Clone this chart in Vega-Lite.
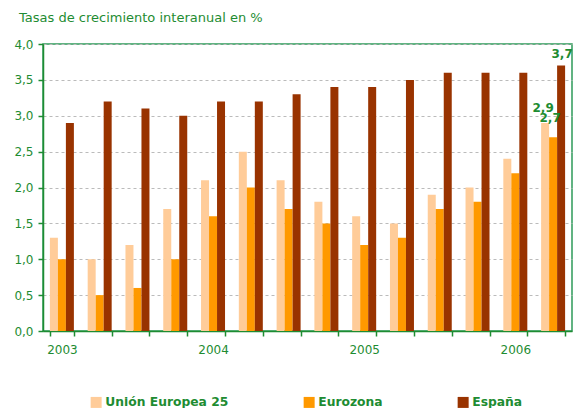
{
  "$schema": "https://vega.github.io/schema/vega-lite/v6.json",
  "width": 529,
  "height": 287,
  "autosize": {"type": "none"},
  "padding": {"left": 43, "top": 44, "right": 4, "bottom": 77},
  "config": {
    "font": "DejaVu Sans",
    "view": {"stroke": "#2e9a5a", "strokeWidth": 1.5},
    "background": "white",
    "locale": {
      "number": {"decimal": ",", "thousands": ".", "grouping": [3], "currency": ["", " €"]}
    }
  },
  "title": {
    "text": "Tasas de crecimiento interanual en %",
    "anchor": "start",
    "frame": "group",
    "dx": -24,
    "offset": 13,
    "fontSize": 13,
    "fontWeight": "normal",
    "color": "#1e8c32"
  },
  "data": {
    "values": [
      {"periodo": "2003-T1", "serie": "Unión Europea 25", "valor": 1.3},
      {"periodo": "2003-T1", "serie": "Eurozona", "valor": 1.0},
      {"periodo": "2003-T1", "serie": "España", "valor": 2.9},
      {"periodo": "2003-T2", "serie": "Unión Europea 25", "valor": 1.0},
      {"periodo": "2003-T2", "serie": "Eurozona", "valor": 0.5},
      {"periodo": "2003-T2", "serie": "España", "valor": 3.2},
      {"periodo": "2003-T3", "serie": "Unión Europea 25", "valor": 1.2},
      {"periodo": "2003-T3", "serie": "Eurozona", "valor": 0.6},
      {"periodo": "2003-T3", "serie": "España", "valor": 3.1},
      {"periodo": "2003-T4", "serie": "Unión Europea 25", "valor": 1.7},
      {"periodo": "2003-T4", "serie": "Eurozona", "valor": 1.0},
      {"periodo": "2003-T4", "serie": "España", "valor": 3.0},
      {"periodo": "2004-T1", "serie": "Unión Europea 25", "valor": 2.1},
      {"periodo": "2004-T1", "serie": "Eurozona", "valor": 1.6},
      {"periodo": "2004-T1", "serie": "España", "valor": 3.2},
      {"periodo": "2004-T2", "serie": "Unión Europea 25", "valor": 2.5},
      {"periodo": "2004-T2", "serie": "Eurozona", "valor": 2.0},
      {"periodo": "2004-T2", "serie": "España", "valor": 3.2},
      {"periodo": "2004-T3", "serie": "Unión Europea 25", "valor": 2.1},
      {"periodo": "2004-T3", "serie": "Eurozona", "valor": 1.7},
      {"periodo": "2004-T3", "serie": "España", "valor": 3.3},
      {"periodo": "2004-T4", "serie": "Unión Europea 25", "valor": 1.8},
      {"periodo": "2004-T4", "serie": "Eurozona", "valor": 1.5},
      {"periodo": "2004-T4", "serie": "España", "valor": 3.4},
      {"periodo": "2005-T1", "serie": "Unión Europea 25", "valor": 1.6},
      {"periodo": "2005-T1", "serie": "Eurozona", "valor": 1.2},
      {"periodo": "2005-T1", "serie": "España", "valor": 3.4},
      {"periodo": "2005-T2", "serie": "Unión Europea 25", "valor": 1.5},
      {"periodo": "2005-T2", "serie": "Eurozona", "valor": 1.3},
      {"periodo": "2005-T2", "serie": "España", "valor": 3.5},
      {"periodo": "2005-T3", "serie": "Unión Europea 25", "valor": 1.9},
      {"periodo": "2005-T3", "serie": "Eurozona", "valor": 1.7},
      {"periodo": "2005-T3", "serie": "España", "valor": 3.6},
      {"periodo": "2005-T4", "serie": "Unión Europea 25", "valor": 2.0},
      {"periodo": "2005-T4", "serie": "Eurozona", "valor": 1.8},
      {"periodo": "2005-T4", "serie": "España", "valor": 3.6},
      {"periodo": "2006-T1", "serie": "Unión Europea 25", "valor": 2.4},
      {"periodo": "2006-T1", "serie": "Eurozona", "valor": 2.2},
      {"periodo": "2006-T1", "serie": "España", "valor": 3.6},
      {"periodo": "2006-T2", "serie": "Unión Europea 25", "valor": 2.9},
      {"periodo": "2006-T2", "serie": "Eurozona", "valor": 2.7},
      {"periodo": "2006-T2", "serie": "España", "valor": 3.7}
    ]
  },
  "encoding": {
    "x": {
      "field": "periodo",
      "type": "nominal",
      "sort": null,
      "scale": {"paddingInner": 0.365, "paddingOuter": 0.1825},
      "axis": {
        "title": null,
        "labelAngle": 0,
        "labelExpr": "substring(datum.label, 5, 7) == 'T1' ? substring(datum.label, 0, 4) : ''",
        "tickBand": "extent",
        "domainColor": "#1e8c32",
        "domainWidth": 1.5,
        "tickColor": "#1e8c32",
        "tickWidth": 1.5,
        "tickSize": 5,
        "labelColor": "#1e8c32",
        "labelFontSize": 12,
        "labelPadding": 8,
        "labelOverlap": false
      }
    },
    "xOffset": {
      "field": "serie",
      "type": "nominal",
      "sort": ["Unión Europea 25", "Eurozona", "España"],
      "scale": {"paddingInner": 0, "paddingOuter": 0}
    },
    "y": {
      "field": "valor",
      "type": "quantitative",
      "scale": {"domain": [0, 4], "nice": false},
      "axis": {
        "title": null,
        "values": [0, 0.5, 1, 1.5, 2, 2.5, 3, 3.5, 4],
        "format": ".1f",
        "domainColor": "#1e8c32",
        "domainWidth": 1.5,
        "tickColor": "#1e8c32",
        "tickWidth": 1.5,
        "tickSize": 5,
        "labelColor": "#1e8c32",
        "labelFontSize": 12,
        "labelPadding": 5,
        "gridColor": "#bbbbbb",
        "gridDash": [3, 3],
        "gridWidth": 1
      }
    }
  },
  "layer": [
    {
      "mark": {"type": "bar"},
      "encoding": {
        "color": {
          "field": "serie",
          "type": "nominal",
          "scale": {
            "domain": ["Unión Europea 25", "Eurozona", "España"],
            "range": ["#FFCC99", "#FF9900", "#993300"]
          },
          "legend": {
            "title": null,
            "orient": "none",
            "direction": "horizontal",
            "legendX": 47,
            "legendY": 352,
            "symbolType": "square",
            "symbolSize": 121,
            "symbolStrokeWidth": 0,
            "symbolOpacity": 1,
            "labelFontSize": 12.3,
            "labelFontWeight": "bold",
            "labelColor": "#1e8c32",
            "columnPadding": 74,
            "labelOffset": 3
          }
        }
      }
    },
    {
      "transform": [{"filter": "datum.periodo == '2006-T2' && datum.serie == 'Unión Europea 25'"}],
      "mark": {"type": "text", "dy": -15, "dx": -2, "baseline": "middle", "fontWeight": "bold", "fontSize": 12, "color": "#1e8c32"},
      "encoding": {"text": {"field": "valor", "type": "quantitative", "format": ".1f"}}
    },
    {
      "transform": [{"filter": "datum.periodo == '2006-T2' && datum.serie == 'Eurozona'"}],
      "mark": {"type": "text", "dy": -19, "dx": -3, "baseline": "middle", "fontWeight": "bold", "fontSize": 12, "color": "#1e8c32"},
      "encoding": {"text": {"field": "valor", "type": "quantitative", "format": ".1f"}}
    },
    {
      "transform": [{"filter": "datum.periodo == '2006-T2' && datum.serie == 'España'"}],
      "mark": {"type": "text", "dy": -11.5, "dx": 1, "baseline": "middle", "fontWeight": "bold", "fontSize": 12, "color": "#1e8c32"},
      "encoding": {"text": {"field": "valor", "type": "quantitative", "format": ".1f"}}
    }
  ]
}
